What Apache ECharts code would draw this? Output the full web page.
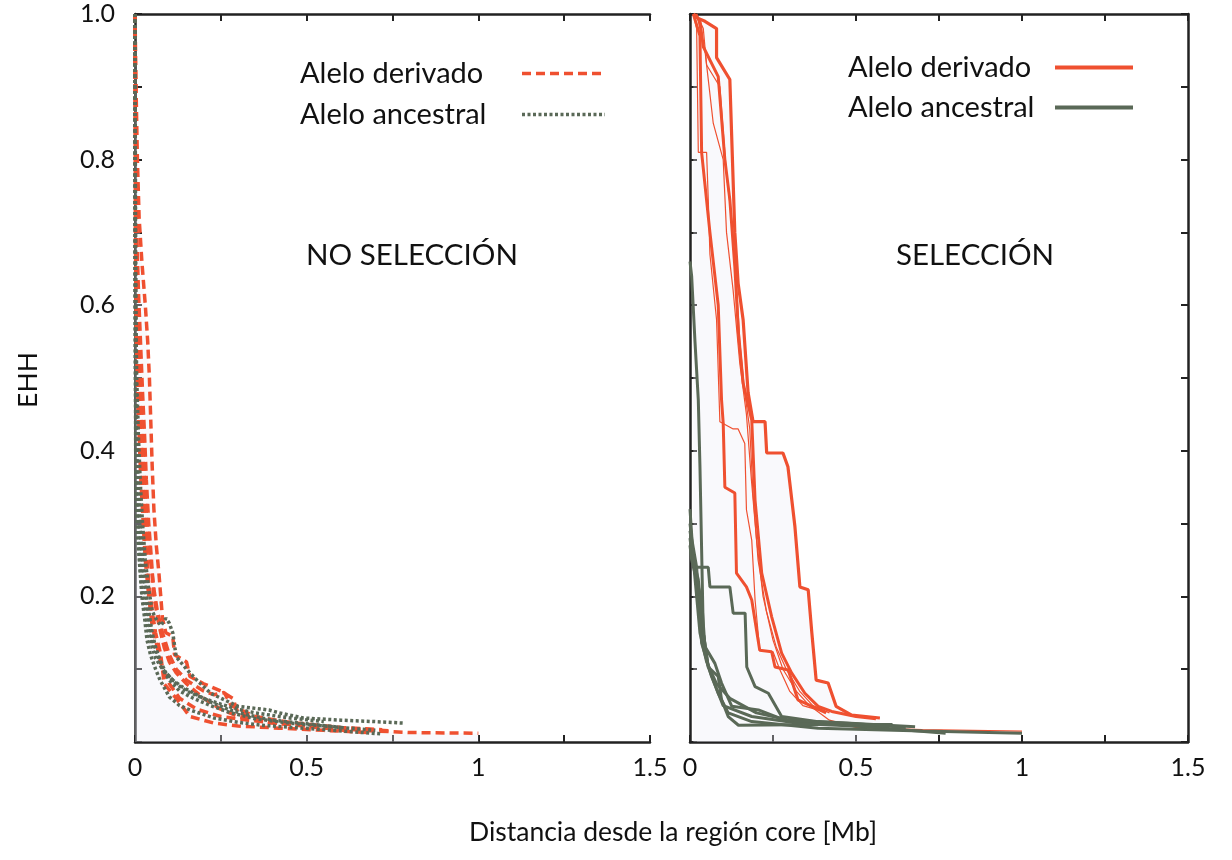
<!DOCTYPE html>
<html>
<head>
<meta charset="utf-8">
<script src="https://cdn.jsdelivr.net/npm/echarts@6/dist/echarts.min.js"></script>
<style>
html,body{margin:0;padding:0;background:#fff;}
#chart{width:1232px;height:860px;}
</style>
</head>
<body>
<div id="chart"></div>
<script>
// ---------- Data (distance [Mb], EHH) ----------
// Left panel: NO SELECCIÓN
const noSelDerived1 = [[0,1],[0.003,0.9],[0.007,0.8],[0.012,0.72],[0.02,0.66],[0.03,0.6],[0.037,0.55],[0.042,0.5],[0.046,0.44],[0.05,0.38],[0.055,0.32],[0.062,0.27],[0.07,0.23],[0.08,0.17],[0.09,0.15],[0.11,0.145],[0.115,0.12],[0.15,0.11],[0.16,0.09],[0.2,0.08],[0.25,0.07],[0.285,0.06],[0.3,0.04],[0.37,0.03],[0.52,0.021],[0.66,0.016],[0.8,0.013],[1.0,0.012]];
const noSelDerived2 = [[0,1],[0.002,0.85],[0.005,0.7],[0.01,0.62],[0.016,0.55],[0.022,0.48],[0.028,0.42],[0.033,0.36],[0.04,0.3],[0.048,0.25],[0.055,0.2],[0.07,0.16],[0.085,0.13],[0.1,0.11],[0.12,0.095],[0.15,0.08],[0.2,0.06],[0.25,0.045],[0.3,0.035],[0.4,0.026],[0.5,0.022],[0.65,0.018],[0.75,0.015]];
const noSelDerived3 = [[0,1],[0.002,0.8],[0.004,0.65],[0.008,0.55],[0.012,0.48],[0.018,0.4],[0.025,0.33],[0.032,0.27],[0.04,0.22],[0.05,0.18],[0.06,0.15],[0.075,0.12],[0.085,0.08],[0.12,0.06],[0.16,0.035],[0.23,0.026],[0.3,0.022],[0.42,0.019],[0.55,0.016],[0.68,0.013]];
const noSelDerived4 = [[0,1],[0.003,0.75],[0.006,0.6],[0.012,0.5],[0.02,0.42],[0.028,0.35],[0.035,0.3],[0.045,0.25],[0.055,0.21],[0.065,0.18],[0.08,0.15],[0.1,0.12],[0.12,0.1],[0.15,0.085],[0.2,0.07],[0.23,0.065],[0.26,0.068],[0.28,0.05],[0.35,0.035],[0.45,0.027],[0.6,0.02],[0.72,0.017]];
const noSelDerived5 = [[0,1],[0.001,0.7],[0.004,0.55],[0.01,0.45],[0.016,0.37],[0.024,0.3],[0.03,0.25],[0.04,0.2],[0.05,0.16],[0.065,0.13],[0.08,0.1],[0.1,0.08],[0.13,0.06],[0.18,0.045],[0.25,0.035],[0.33,0.03],[0.45,0.024],[0.58,0.018],[0.62,0.015]];

const noSelAncestral1 = [[0,1],[0.001,0.8],[0.002,0.6],[0.005,0.5],[0.01,0.42],[0.016,0.35],[0.022,0.3],[0.03,0.25],[0.04,0.21],[0.05,0.18],[0.06,0.17],[0.075,0.16],[0.09,0.17],[0.1,0.163],[0.11,0.15],[0.12,0.117],[0.15,0.1],[0.18,0.085],[0.22,0.067],[0.26,0.058],[0.3,0.049],[0.39,0.044],[0.42,0.04],[0.49,0.033],[0.6,0.03],[0.7,0.028],[0.78,0.026]];
const noSelAncestral2 = [[0,1],[0.001,0.7],[0.002,0.5],[0.004,0.42],[0.008,0.36],[0.012,0.31],[0.018,0.27],[0.025,0.23],[0.032,0.2],[0.04,0.17],[0.05,0.14],[0.065,0.12],[0.08,0.1],[0.1,0.085],[0.13,0.07],[0.17,0.06],[0.22,0.05],[0.28,0.04],[0.35,0.032],[0.45,0.026],[0.55,0.022],[0.65,0.018],[0.7,0.016]];
const noSelAncestral3 = [[0,1],[0.001,0.6],[0.002,0.4],[0.004,0.33],[0.008,0.28],[0.014,0.24],[0.02,0.2],[0.028,0.17],[0.035,0.14],[0.045,0.12],[0.06,0.1],[0.073,0.085],[0.1,0.062],[0.13,0.05],[0.16,0.044],[0.23,0.033],[0.3,0.027],[0.37,0.023],[0.55,0.017],[0.72,0.011]];
const noSelAncestral4 = [[0,1],[0.001,0.65],[0.003,0.48],[0.006,0.4],[0.01,0.34],[0.016,0.29],[0.022,0.25],[0.03,0.21],[0.04,0.18],[0.05,0.15],[0.06,0.13],[0.075,0.11],[0.09,0.095],[0.11,0.085],[0.14,0.075],[0.18,0.065],[0.22,0.055],[0.27,0.045],[0.32,0.038],[0.4,0.03],[0.5,0.025],[0.6,0.02]];
const noSelAncestral5 = [[0,1],[0.001,0.55],[0.003,0.38],[0.006,0.32],[0.01,0.28],[0.015,0.24],[0.02,0.21],[0.03,0.18],[0.04,0.15],[0.05,0.13],[0.06,0.115],[0.08,0.1],[0.1,0.09],[0.12,0.08],[0.15,0.07],[0.2,0.06],[0.25,0.052],[0.3,0.045],[0.35,0.04],[0.45,0.033],[0.55,0.028]];

// Right panel: SELECCIÓN
const selDerived1 = [[0.01,1],[0.025,0.994],[0.045,0.99],[0.08,0.98],[0.08,0.94],[0.12,0.91],[0.135,0.7],[0.145,0.63],[0.16,0.58],[0.175,0.48],[0.19,0.44],[0.226,0.44],[0.231,0.397],[0.28,0.397],[0.295,0.378],[0.316,0.296],[0.331,0.213],[0.356,0.209],[0.367,0.15],[0.38,0.085],[0.416,0.081],[0.44,0.049],[0.487,0.037],[0.572,0.033]];
const selDerived2 = [[0.015,1],[0.03,0.99],[0.04,0.955],[0.085,0.914],[0.105,0.8],[0.11,0.8],[0.12,0.745],[0.135,0.653],[0.146,0.562],[0.16,0.493],[0.186,0.442],[0.196,0.332],[0.216,0.232],[0.246,0.172],[0.276,0.122],[0.306,0.095],[0.346,0.067],[0.386,0.049],[0.427,0.042],[0.5,0.035],[0.56,0.032]];
const selDerived3 = [[0.02,1],[0.04,0.98],[0.05,0.93],[0.09,0.9],[0.11,0.78],[0.125,0.72],[0.14,0.63],[0.15,0.55],[0.165,0.48],[0.18,0.43],[0.19,0.34],[0.205,0.25],[0.23,0.18],[0.26,0.13],[0.29,0.1],[0.33,0.07],[0.37,0.05],[0.42,0.04]];
const selDerived4 = [[0.01,1],[0.02,0.98],[0.025,0.81],[0.05,0.81],[0.055,0.745],[0.06,0.67],[0.08,0.58],[0.09,0.44],[0.13,0.43],[0.145,0.43],[0.165,0.41],[0.17,0.319],[0.186,0.277],[0.196,0.195],[0.21,0.126],[0.25,0.124],[0.27,0.1],[0.3,0.07],[0.34,0.05],[0.4,0.042]];
const selDerived5 = [[0.01,1],[0.03,0.97],[0.035,0.81],[0.06,0.7],[0.085,0.6],[0.095,0.47],[0.1,0.438],[0.105,0.35],[0.135,0.342],[0.14,0.232],[0.17,0.213],[0.186,0.195],[0.21,0.126],[0.246,0.124],[0.256,0.103],[0.296,0.099],[0.325,0.058],[0.41,0.04]];
const selDerived6 = [[0.02,1],[0.045,0.95],[0.07,0.85],[0.1,0.8],[0.11,0.7],[0.13,0.62],[0.15,0.52],[0.17,0.45],[0.185,0.36],[0.2,0.28],[0.22,0.2],[0.25,0.14],[0.28,0.1],[0.32,0.07],[0.36,0.05],[0.42,0.03],[0.5,0.02],[0.7,0.017],[1.0,0.015]];

const selAncestral1 = [[0,0.66],[0.005,0.64],[0.015,0.55],[0.025,0.47],[0.03,0.378],[0.035,0.264],[0.04,0.15],[0.055,0.103],[0.085,0.067],[0.115,0.04],[0.186,0.028],[0.386,0.019],[0.7,0.015],[1.0,0.012]];
const selAncestral2 = [[0,0.29],[0.005,0.273],[0.015,0.24],[0.055,0.24],[0.06,0.213],[0.12,0.213],[0.13,0.177],[0.166,0.177],[0.171,0.103],[0.196,0.076],[0.236,0.067],[0.276,0.035],[0.386,0.028],[0.678,0.021]];
const selAncestral3 = [[0,0.28],[0.005,0.26],[0.025,0.223],[0.04,0.15],[0.055,0.103],[0.085,0.09],[0.095,0.058],[0.115,0.035],[0.146,0.023],[0.4,0.024],[0.61,0.024]];
const selAncestral4 = [[0,0.27],[0.005,0.25],[0.035,0.195],[0.045,0.131],[0.075,0.108],[0.095,0.081],[0.126,0.049],[0.206,0.044],[0.286,0.03],[0.5,0.022],[0.77,0.012]];
const selAncestral5 = [[0,0.3],[0.005,0.28],[0.02,0.24],[0.035,0.136],[0.065,0.09],[0.1,0.05],[0.186,0.035],[0.336,0.025],[0.6,0.02]];
const selAncestral6 = [[0,0.32],[0.01,0.25],[0.02,0.2],[0.03,0.15],[0.05,0.11],[0.08,0.08],[0.12,0.06],[0.2,0.04],[0.3,0.03],[0.5,0.025],[0.65,0.02]];

// Axis ticks / labels
const xTickValues = [0, 0.5, 1, 1.5];
const yTickLabels = ['0.2', '0.4', '0.6', '0.8', '1.0'];
const legendNames = ['Alelo derivado', 'Alelo ancestral'];
const panelTitles = ['NO SELECCIÓN', 'SELECCIÓN'];
const xTitle = 'Distancia desde la región core [Mb]';
const yTitle = 'EHH';

// ---------- Chart ----------
const ORANGE = '#EF5030';
const GREEN = '#5A6957';
const FONT = 'Lato';
const chart = echarts.init(document.getElementById('chart'), null, {renderer: 'canvas'});

function xLabel(v) {
  for (const t of xTickValues) if (Math.abs(v - t) < 1e-9) return String(t);
  return '';
}
function yLabel(v) {
  for (const t of yTickLabels) if (Math.abs(v - parseFloat(t)) < 1e-9) return t;
  return '';
}
const tickStyle = {show: true, inside: true, length: 7, lineStyle: {color: '#222', width: 2}};
const lineAx = {lineStyle: {color: '#222', width: 2.5}};

function xAxisDef(grid, pos, labels, showLine) {
  return {type: 'value', gridIndex: grid, position: pos, min: 0, max: 1.5, interval: 0.25,
    axisLine: {show: showLine, onZero: false, ...lineAx}, axisTick: tickStyle,
    axisLabel: {show: labels, formatter: xLabel, fontSize: 25, color: '#111', fontFamily: FONT, margin: 13},
    splitLine: {show: false}};
}
function yAxisDef(grid, pos, labels, showLine) {
  return {type: 'value', gridIndex: grid, position: pos, min: 0, max: 1, interval: 0.1,
    axisLine: {show: showLine, onZero: false, ...lineAx}, axisTick: tickStyle,
    axisLabel: {show: labels, formatter: yLabel, fontSize: 25, color: '#111', fontFamily: FONT, margin: 20},
    splitLine: {show: false}};
}

const series = [];
function addSeries(data, name, grid, opts) {
  series.push(Object.assign({
    type: 'line', name: name, data: data, symbol: 'none', smooth: false,
    xAxisIndex: grid === 0 ? 0 : 2, yAxisIndex: grid === 0 ? 0 : 1,
    animation: false, silent: true
  }, opts));
}
const bgArea = {color: 'rgba(236,236,246,0.45)'};
const DASH = {color: ORANGE, width: 3.5, type: [9, 5]};
const DOT = {color: GREEN, width: 3.5, type: [3, 2.5]};
// left panel
const leftD = [noSelDerived1, noSelDerived2, noSelDerived3, noSelDerived4, noSelDerived5];
const leftA = [noSelAncestral1, noSelAncestral2, noSelAncestral3, noSelAncestral4, noSelAncestral5];
addSeries(noSelDerived1, 'L:' + legendNames[0], 0, {lineStyle: DASH, itemStyle: {color: ORANGE}, areaStyle: bgArea});
leftD.slice(1).forEach(d => addSeries(d, 'L:' + legendNames[0], 0, {lineStyle: DASH, itemStyle: {color: ORANGE}}));
leftA.forEach(d => addSeries(d, 'L:' + legendNames[1], 0, {lineStyle: DOT, itemStyle: {color: GREEN}}));
// right panel
addSeries(selDerived1, 'R:' + legendNames[0], 1, {lineStyle: {color: ORANGE, width: 3.2}, itemStyle: {color: ORANGE}, areaStyle: bgArea});
addSeries(selDerived2, 'R:' + legendNames[0], 1, {lineStyle: {color: ORANGE, width: 3}, itemStyle: {color: ORANGE}});
addSeries(selDerived3, 'R:' + legendNames[0], 1, {lineStyle: {color: ORANGE, width: 1.2}, itemStyle: {color: ORANGE}});
addSeries(selDerived4, 'R:' + legendNames[0], 1, {lineStyle: {color: ORANGE, width: 1.2}, itemStyle: {color: ORANGE}});
addSeries(selDerived5, 'R:' + legendNames[0], 1, {lineStyle: {color: ORANGE, width: 3}, itemStyle: {color: ORANGE}});
addSeries(selDerived6, 'R:' + legendNames[0], 1, {lineStyle: {color: ORANGE, width: 1.2}, itemStyle: {color: ORANGE}});
[selAncestral1, selAncestral2, selAncestral3, selAncestral4, selAncestral5, selAncestral6].forEach(d =>
  addSeries(d, 'R:' + legendNames[1], 1, {lineStyle: {color: GREEN, width: 3}, itemStyle: {color: GREEN}}));

function legendDef(prefix, left, top, textWidth, itemWidth, gap, lineW) {
  return {
    orient: 'vertical', left: left, top: top, align: 'right',
    itemWidth: itemWidth, itemHeight: 14, itemGap: gap,
    data: legendNames.map(n => prefix + n),
    formatter: n => '{t|' + n.slice(2) + '}',
    itemStyle: {opacity: 0},
    lineStyle: {width: lineW},
    textStyle: {color: '#111', rich: {t: {fontSize: 29, fontFamily: FONT, color: '#111', width: textWidth, align: 'left', lineHeight: 30}}},
    selectedMode: false
  };
}

const option = {
  backgroundColor: '#fff',
  animation: false,
  grid: [
    {left: 135, top: 14, width: 515, height: 728, show: false},
    {left: 690, top: 14, width: 498, height: 728, show: false}
  ],
  xAxis: [
    xAxisDef(0, 'bottom', true, true),
    xAxisDef(0, 'top', false, true),
    xAxisDef(1, 'bottom', true, true),
    xAxisDef(1, 'top', false, true)
  ],
  yAxis: [
    yAxisDef(0, 'left', true, true),
    yAxisDef(1, 'left', false, true),
    yAxisDef(1, 'right', false, true)
  ],
  legend: [
    legendDef('L:', 295, 54, 217, 83, 12, 3.5),
    legendDef('R:', 843, 48, 202, 78, 11, 4)
  ],
  graphic: [
    {type: 'text', x: 412, y: 255, style: {text: panelTitles[0], font: '29.5px ' + FONT, fill: '#111', align: 'center', verticalAlign: 'middle'}},
    {type: 'text', x: 975, y: 255, style: {text: panelTitles[1], font: '29.5px ' + FONT, fill: '#111', align: 'center', verticalAlign: 'middle'}},
    {type: 'text', x: 673, y: 832, style: {text: xTitle, font: '26.5px ' + FONT, fill: '#111', align: 'center', verticalAlign: 'middle'}},
    {type: 'text', x: 28, y: 380, rotation: Math.PI / 2, style: {text: yTitle, font: '26.5px ' + FONT, fill: '#111', align: 'center', verticalAlign: 'middle'}}
  ],
  series: series
};
chart.setOption(option);
</script>
</body>
</html>
